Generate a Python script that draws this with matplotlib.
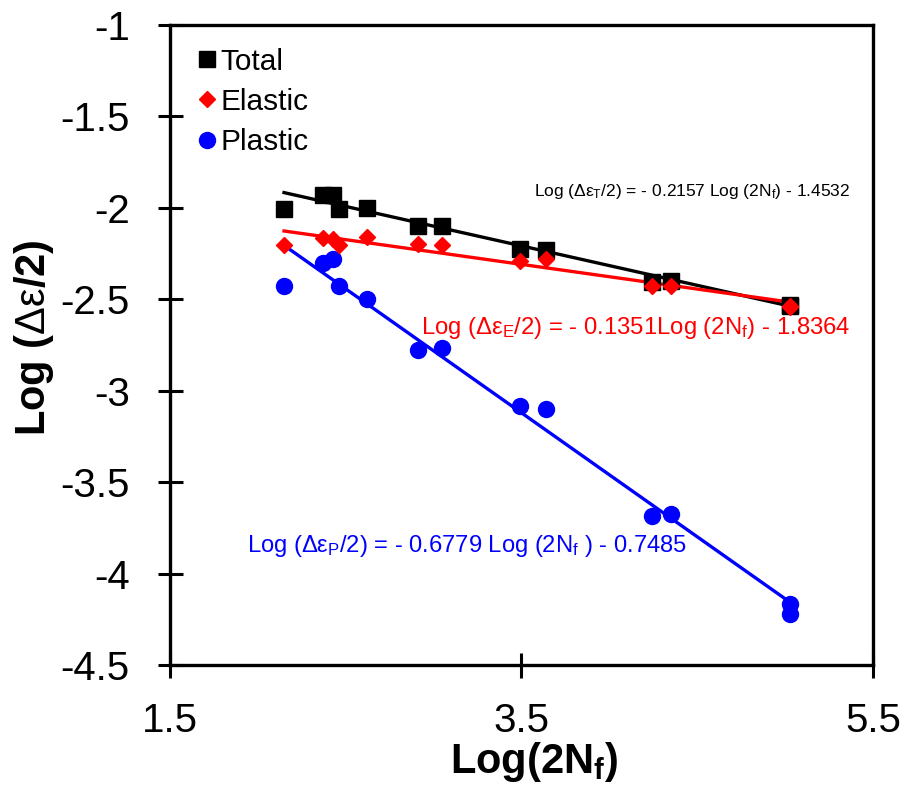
#!/usr/bin/env python3
"""
Strain-life (Coffin-Manson / Basquin) plot: total, elastic and plastic
strain amplitude vs reversals to failure, log-log, with linear fits.
"""

import numpy as np
import matplotlib
matplotlib.use("Agg")
import matplotlib.pyplot as plt

plt.rcParams['font.family'] = ['Liberation Sans', 'DejaVu Sans']
plt.rcParams['mathtext.fontset'] = 'custom'
plt.rcParams['mathtext.rm'] = 'Liberation Sans'
plt.rcParams['mathtext.it'] = 'Liberation Sans'
plt.rcParams['mathtext.bf'] = 'Liberation Sans:bold'

# Log(2Nf) for each specimen
log_2nf = [2.149, 2.368, 2.427, 2.462, 2.621, 2.911, 3.048, 3.489, 3.642,
           4.243, 4.351, 5.028, 5.028]

# Log(strain amplitude) per component
log_total = [-2.006, -1.930, -1.930, -2.006, -2.000, -2.100, -2.100, -2.225,
             -2.230, -2.405, -2.400, -2.530, -2.536]
log_elastic = [-2.203, -2.165, -2.170, -2.203, -2.160, -2.197, -2.203, -2.290,
               -2.280, -2.430, -2.427, -2.535, -2.540]
log_plastic = [-2.430, -2.300, -2.280, -2.430, -2.500, -2.780, -2.766, -3.083,
               -3.100, -3.685, -3.674, -4.166, -4.220]

# Fit coefficients (slope, intercept) printed on the chart
fit_total = (-0.2157, -1.4532)
fit_elastic = (-0.1351, -1.8364)
fit_plastic = (-0.6779, -0.7485)

x_ticks = [1.5, 3.5, 5.5]
x_tick_labels = ['1.5', '3.5', '5.5']
y_ticks = [-1, -1.5, -2, -2.5, -3, -3.5, -4, -4.5]
y_tick_labels = ['-1', '-1.5', '-2', '-2.5', '-3', '-3.5', '-4', '-4.5']


def fit_line(ax, x, coef, color):
    xs = np.array([min(x), max(x)])
    ax.plot(xs, coef[0] * xs + coef[1], color=color, linewidth=2.4, zorder=2)


def main():
    fig = plt.figure(figsize=(9.06, 7.85), dpi=100)
    ax = fig.add_axes([0.1876, 0.1529, 0.7760, 0.8153])

    # fitted lines
    fit_line(ax, log_2nf, fit_total, 'black')
    fit_line(ax, log_2nf, fit_elastic, 'red')
    fit_line(ax, log_2nf, fit_plastic, 'blue')

    # data points
    ax.plot(log_2nf, log_total, 's', color='black', markersize=11,
            label='Total', zorder=3)
    ax.plot(log_2nf, log_elastic, 'D', color='red', markersize=8.5,
            label='Elastic', zorder=4)
    ax.plot(log_2nf, log_plastic, 'o', color='blue', markersize=11.5,
            label='Plastic', zorder=3)

    # equations
    ax.text(5.37, -1.913,
            r'Log ($\Delta\varepsilon_{\mathrm{T}}$/2) = - 0.2157 Log (2N$_{\mathrm{f}}$) - 1.4532',
            color='black', fontsize=12.5, ha='right', va='center')
    ax.text(5.37, -2.657,
            r'Log ($\Delta\varepsilon_{\mathrm{E}}$/2) = - 0.1351Log (2N$_{\mathrm{f}}$) - 1.8364',
            color='red', fontsize=17.2, ha='right', va='center')
    ax.text(1.94, -3.85,
            r'Log ($\Delta\varepsilon_{\mathrm{P}}$/2) = - 0.6779 Log (2N$_{\mathrm{f}}$ ) - 0.7485',
            color='blue', fontsize=17.1, ha='left', va='center')

    ax.set_xlim(1.5, 5.5)
    ax.set_ylim(-4.5, -1)
    ax.set_xticks(x_ticks)
    ax.set_xticklabels(x_tick_labels)
    ax.set_yticks(y_ticks)
    ax.set_yticklabels(y_tick_labels)
    ax.tick_params(axis='both', direction='inout', length=18, width=2.2,
                   labelsize=29, color='black')
    ax.tick_params(axis='y', pad=20)
    ax.tick_params(axis='x', pad=18)
    for side in ax.spines.values():
        side.set_linewidth(2.4)

    ax.set_xlabel(r'Log(2N$_{\mathbf{f}}$)', fontsize=30, fontweight='bold')
    ax.xaxis.set_label_coords(0.518, -0.117)
    ax.set_ylabel(r'Log ($\Delta\varepsilon$/2)', fontsize=30,
                  fontweight='bold')
    ax.yaxis.set_label_coords(-0.162, 0.512)

    ax.legend(loc='upper left', frameon=False, fontsize=21.4,
              handletextpad=-0.25, borderaxespad=0.3, labelspacing=0.41,
              handlelength=1.4, bbox_to_anchor=(-0.006, 0.997))

    fig.savefig('out.png', dpi=100)
    plt.close(fig)
    return 0


if __name__ == "__main__":
    main()
